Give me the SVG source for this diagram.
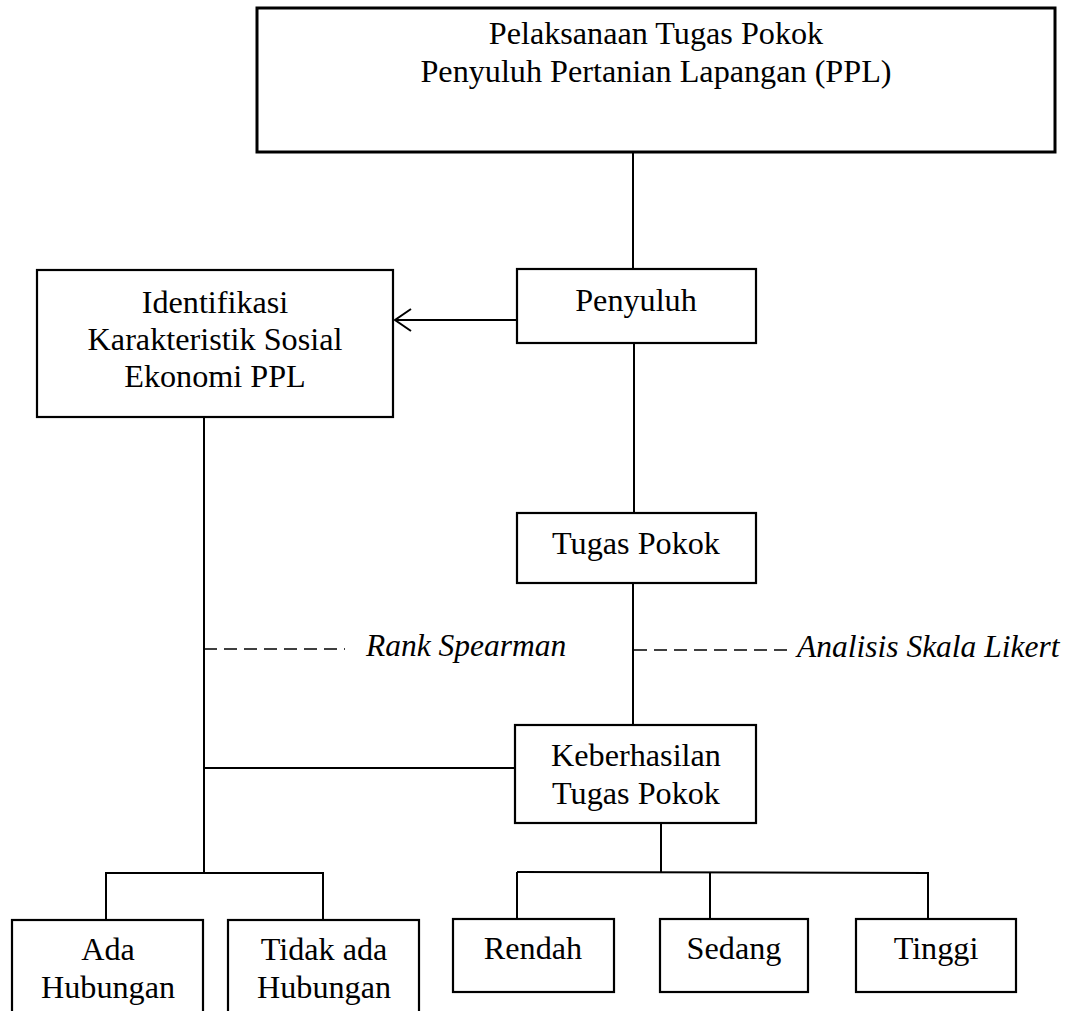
<svg xmlns="http://www.w3.org/2000/svg" width="1072" height="1011" viewBox="0 0 1072 1011">
<style>
.box{fill:#fff;stroke:#000;stroke-width:2.2}
.thick{stroke-width:3}
.t{font-family:"Liberation Serif","Times New Roman",serif;font-size:32.2px;fill:#000;text-anchor:middle}
.i{font-family:"Liberation Serif","Times New Roman",serif;font-size:31.5px;font-style:italic;fill:#000}
.c{stroke:#000;stroke-width:2;fill:none}
.d{stroke:#000;stroke-width:1.5;stroke-dasharray:13 7;fill:none}
</style>
<rect width="1072" height="1011" fill="#fff"/>
<g id="connectors">
<line class="c" x1="633" y1="152" x2="633" y2="269"/>
<line class="c" x1="634" y1="343" x2="634" y2="513"/>
<line class="c" x1="633" y1="583" x2="633" y2="725"/>
<line class="c" x1="517" y1="320" x2="395" y2="320"/>
<polyline class="c" points="411,309 395,320 411,331"/>
<line class="c" x1="204" y1="417" x2="204" y2="874"/>
<line class="c" x1="204" y1="768" x2="515" y2="768"/>
<line class="c" x1="106" y1="873" x2="324" y2="873"/>
<line class="c" x1="106" y1="872" x2="106" y2="920"/>
<line class="c" x1="323" y1="872" x2="323" y2="920"/>
<line class="c" x1="661" y1="822" x2="661" y2="873"/>
<line class="c" x1="517" y1="872" x2="928" y2="873"/>
<line class="c" x1="517" y1="872" x2="517" y2="919"/>
<line class="c" x1="710" y1="872" x2="710" y2="919"/>
<line class="c" x1="928" y1="872" x2="928" y2="919"/>
<line class="d" x1="204" y1="649" x2="345" y2="649"/>
<line class="d" x1="634" y1="650" x2="790" y2="650"/>
</g>
<g id="n-top"><rect class="box thick" x="257" y="8" width="798" height="144"/>
<text class="t" x="656" y="44">Pelaksanaan Tugas Pokok</text>
<text class="t" x="656" y="82">Penyuluh Pertanian Lapangan (PPL)</text></g>
<g id="n-penyuluh"><rect class="box" x="517" y="269" width="239" height="74"/>
<text class="t" x="636" y="311">Penyuluh</text></g>
<g id="n-identifikasi"><rect class="box" x="37" y="270" width="356" height="147"/>
<text class="t" x="215" y="313">Identifikasi</text>
<text class="t" x="215" y="350">Karakteristik Sosial</text>
<text class="t" x="215" y="387">Ekonomi PPL</text></g>
<g id="n-tugas"><rect class="box" x="517" y="513" width="239" height="70"/>
<text class="t" x="636" y="554">Tugas Pokok</text></g>
<g id="n-keberhasilan"><rect class="box" x="515" y="725" width="241" height="98"/>
<text class="t" x="636" y="766">Keberhasilan</text>
<text class="t" x="636" y="804">Tugas Pokok</text></g>
<g id="l-rank"><text class="i" x="366" y="656">Rank Spearman</text></g>
<g id="l-likert"><text class="i" x="797" y="657">Analisis Skala Likert</text></g>
<g id="n-ada"><rect class="box" x="12" y="920" width="191" height="100"/>
<text class="t" x="108" y="960">Ada</text>
<text class="t" x="108" y="998">Hubungan</text></g>
<g id="n-tidak"><rect class="box" x="228" y="920" width="191" height="100"/>
<text class="t" x="324" y="960">Tidak ada</text>
<text class="t" x="324" y="998">Hubungan</text></g>
<g id="n-rendah"><rect class="box" x="453" y="919" width="161" height="73"/>
<text class="t" x="533" y="959">Rendah</text></g>
<g id="n-sedang"><rect class="box" x="660" y="919" width="148" height="73"/>
<text class="t" x="734" y="959">Sedang</text></g>
<g id="n-tinggi"><rect class="box" x="856" y="919" width="160" height="73"/>
<text class="t" x="936" y="959">Tinggi</text></g>
</svg>
